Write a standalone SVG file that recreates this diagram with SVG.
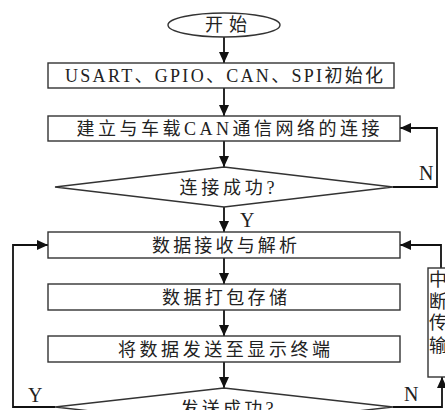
<svg xmlns="http://www.w3.org/2000/svg" width="445" height="410" viewBox="0 0 445 410">
<defs>
<marker id="ah" markerUnits="userSpaceOnUse" markerWidth="12" markerHeight="10" refX="11" refY="5" orient="auto">
<path d="M0,0 L11,5 L0,10 Z" fill="#111"/>
</marker>
<style>
.box{fill:#fff;stroke:#333;stroke-width:1.4}
.conn{fill:none;stroke:#111;stroke-width:1.8}
.t{font-family:"Liberation Serif","Noto Sans CJK SC",serif;font-size:18px;fill:#222;text-anchor:middle}
.lbl{font-family:"Liberation Serif","Noto Sans CJK SC",serif;font-size:20px;fill:#222}
</style>
</defs>
<rect width="445" height="410" fill="#fff"/>
<g id="connectors">
<line class="conn" x1="224" y1="37" x2="224" y2="63" marker-end="url(#ah)"/>
<line class="conn" x1="224" y1="88" x2="224" y2="116" marker-end="url(#ah)"/>
<line class="conn" x1="224" y1="141" x2="224" y2="167" marker-end="url(#ah)"/>
<line class="conn" x1="224" y1="207" x2="224" y2="232" marker-end="url(#ah)"/>
<line class="conn" x1="224" y1="258" x2="224" y2="284" marker-end="url(#ah)"/>
<line class="conn" x1="224" y1="310" x2="224" y2="336" marker-end="url(#ah)"/>
<line class="conn" x1="224" y1="362" x2="224" y2="388" marker-end="url(#ah)"/>
<polyline class="conn" points="393,187 437,187 437,128 400,128" marker-end="url(#ah)"/>
<polyline class="conn" points="55,407 13,407 13,245 48,245" marker-end="url(#ah)"/>
<polyline class="conn" points="393,407 442,407 442,377" marker-end="url(#ah)"/>
<polyline class="conn" points="441,268 441,245 400,245" marker-end="url(#ah)"/>
<text class="lbl" x="419" y="180">N</text>
<text class="lbl" x="240" y="227">Y</text>
<text class="lbl" x="28" y="402">Y</text>
<text class="lbl" x="404" y="401">N</text>
</g>
<g id="start">
<ellipse class="box" cx="224" cy="25" rx="56" ry="12"/>
<text class="t" x="226" y="31" textLength="42">开始</text>
</g>
<g id="init">
<rect class="box" x="48" y="63" width="346" height="25"/>
<text class="t" x="224" y="82" font-size="19" textLength="318">USART、GPIO、CAN、SPI初始化</text>
</g>
<g id="connect">
<rect class="box" x="48" y="116" width="352" height="25"/>
<text class="t" x="228" y="135" textLength="303">建立与车载CAN通信网络的连接</text>
</g>
<g id="dec1">
<polygon class="box" points="224,167 393,187 224,207 55,187"/>
<text class="t" x="227" y="193.5" textLength="95">连接成功?</text>
</g>
<g id="recv">
<rect class="box" x="48" y="232" width="352" height="26"/>
<text class="t" x="224.5" y="251.5" textLength="145">数据接收与解析</text>
</g>
<g id="pack">
<rect class="box" x="48" y="284" width="352" height="26"/>
<text class="t" x="224.5" y="303.5" textLength="125">数据打包存储</text>
</g>
<g id="send">
<rect class="box" x="48" y="336" width="352" height="26"/>
<text class="t" x="224" y="355.5" textLength="212">将数据发送至显示终端</text>
</g>
<g id="dec2">
<polygon class="box" points="224,388 393,407 224,426 55,407"/>
<text class="t" x="227" y="415" textLength="93">发送成功?</text>
</g>
<g id="interrupt">
<rect class="box" x="428" y="268" width="40" height="109"/>
<text class="t" x="438" y="286" font-size="17">中</text>
<text class="t" x="438" y="308" font-size="17">断</text>
<text class="t" x="438" y="329" font-size="17">传</text>
<text class="t" x="438" y="352" font-size="17">输</text>
</g>
</svg>
